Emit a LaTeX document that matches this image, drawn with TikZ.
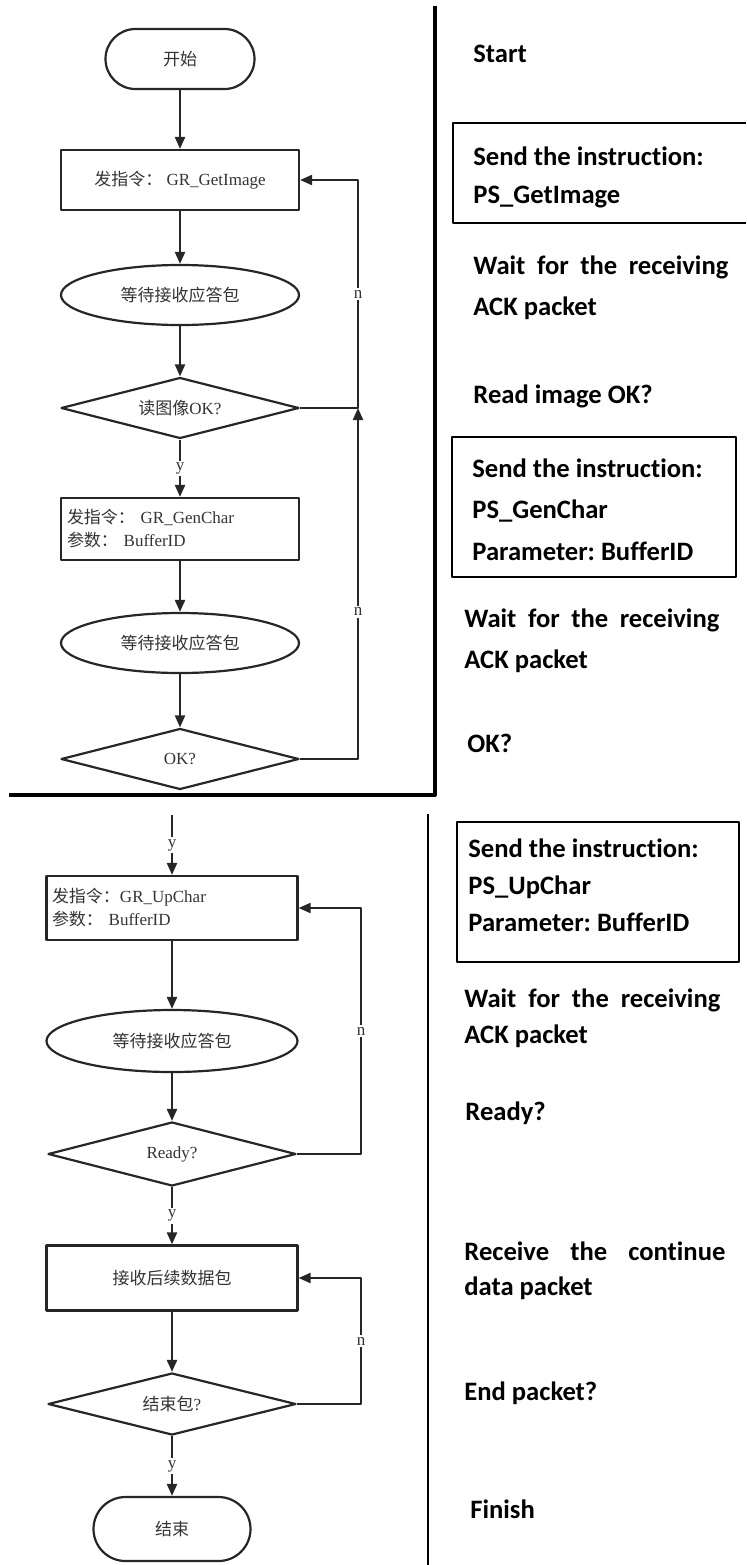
\documentclass[tikz,border=0pt]{standalone}
\usepackage{fontspec}
\setmainfont{Liberation Serif}
\newfontfamily\cjk{Noto Sans CJK SC}
\newfontfamily\engfont[Ligatures=NoCommon,RawFeature={-liga;-clig;-calt;-dlig}]{Carlito}
\usetikzlibrary{shapes.geometric,arrows.meta}
\frenchspacing
\begin{document}
\begin{tikzpicture}[x=0.5pt,y=-0.5pt,>={Triangle[length=6pt,width=5pt]},line join=round,
	every node/.style={text=black!80},
	proc/.style={draw=black!85,line width=1.1pt,rectangle,minimum width=119pt,minimum height=30pt,inner sep=2pt,font=\fontsize{8.5}{11.5}\selectfont},
	wait/.style={draw=black!85,line width=1.1pt,ellipse,minimum width=119pt,minimum height=30pt,inner sep=1pt,font=\fontsize{8.5}{11}\selectfont},
	test/.style={draw=black!85,line width=1.1pt,diamond,aspect=4,minimum width=119pt,minimum height=30.5pt,inner sep=1pt,font=\fontsize{8.5}{11}\selectfont},
	term/.style={draw=black!85,line width=1.1pt,rectangle,rounded corners=15pt,minimum width=74.5pt,minimum height=30pt,font=\fontsize{8.5}{11}\selectfont},
	flow/.style={draw=black!85,line width=1.1pt,->},
	lbl/.style={fill=white,inner sep=1pt,font=\fontsize{8.5}{10}\selectfont},
	rtxt/.style={anchor=base west,inner sep=0pt,text=black,font=\engfont\bfseries\fontsize{13.3}{16}\selectfont}]
	\useasboundingbox (0,0) rectangle (746,1565);
	\draw [line width=2pt] (435,6)--(435,795)--(9,795);
	\draw [line width=1pt] (428,814)--(428,1565);
	
	\node [term] (start) at (180,59) {\cjk 开始};
	\node [proc] (get) at (180,180) {{\cjk 发指令：} GR\_GetImage};
	\node [wait] (wait1) at (180,295) {\cjk 等待接收应答包};
	\node [test] (rdok) at (180,408) {{\cjk 读图像}OK?};
	\node [proc,minimum height=31pt,text width=113pt,align=left] (gen) at (180,529) {{\cjk 发指令：} GR\_GenChar\\{\cjk 参数：} BufferID};
	\node [wait] (wait2) at (180,643) {\cjk 等待接收应答包};
	\node [test] (ok) at (180,759) {OK?};
	\coordinate (j1) at (358,408);
	\draw [flow] (start)--(get);
	\draw [flow] (get)--(wait1);
	\draw [flow] (wait1)--(rdok);
	\draw [flow] (rdok)--node [lbl] {y} (gen);
	\draw [flow] (gen)--(wait2);
	\draw [flow] (wait2)--(ok);
	\draw [flow] (rdok.east)--(j1) |- node [lbl,pos=0.25] {n} (get.east);
	\draw [flow] (ok.east) -| node [lbl,pos=0.71] {n} (j1);
	
	\coordinate (topin) at (172,815);
	\node [proc,minimum width=125.5pt,minimum height=32pt,text width=120pt,align=left] (up) at (172,908) {{\cjk 发指令：}GR\_UpChar\\{\cjk 参数：} BufferID};
	\node [wait,minimum width=125.5pt,minimum height=31pt] (wait3) at (172,1041) {\cjk 等待接收应答包};
	\node [test,minimum width=124pt,minimum height=32pt] (ready) at (172,1154) {Ready?};
	\node [proc,minimum width=125.5pt,minimum height=32.5pt] (recv) at (172,1278) {\cjk 接收后续数据包};
	\node [test,minimum width=124pt,minimum height=31pt] (endp) at (172,1404) {{\cjk 结束包}?};
	\node [term,rounded corners=16pt,minimum width=78.5pt,minimum height=32pt] (finish) at (172,1529) {\cjk 结束};
	\draw [flow] (topin)--node [lbl] {y} (up);
	\draw [flow] (up)--(wait3);
	\draw [flow] (wait3)--(ready);
	\draw [flow] (ready)--node [lbl] {y} (recv);
	\draw [flow] (recv)--(endp);
	\draw [flow] (endp)--node [lbl] {y} (finish);
	\draw [flow] (ready.east)--++(64,0) |- node [lbl,pos=0.25] {n} (up.east);
	\draw [flow] (endp.east)--++(64,0) |- node [lbl,pos=0.25] {n} (recv.east);
	
	\draw [line width=0.8pt] (746,123)-|(453,223)--(746,223);
	\draw [line width=0.8pt] (452,437) rectangle (736,577);
	\draw [line width=0.8pt] (457,822) rectangle (739,962);
	\node [rtxt] (tStart) at (473,62) {Start};
	\node [rtxt] (tSendA) at (473,165) {Send the instruction:};
	\node [rtxt] (tGetImg) at (473,203) {PS\_GetImage};
	\node [rtxt] (tWaitA) at (473,274) {\makebox[127.5pt][s]{Wait for the receiving}};
	\node [rtxt] (tAckA) at (473,315) {ACK packet};
	\node [rtxt] (tRdOk) at (473,403) {Read image OK?};
	\node [rtxt] (tSendB) at (472,477) {Send the instruction:};
	\node [rtxt] (tGenChr) at (472,518) {PS\_GenChar};
	\node [rtxt] (tParB) at (472,560) {Parameter: BufferID};
	\node [rtxt] (tWaitB) at (464,627) {\makebox[127.5pt][s]{Wait for the receiving}};
	\node [rtxt] (tAckB) at (464,668) {ACK packet};
	\node [rtxt] (tOk) at (467,752) {OK?};
	\node [rtxt] (tSendC) at (468,857) {Send the instruction:};
	\node [rtxt] (tUpChr) at (468,894) {PS\_UpChar};
	\node [rtxt] (tParC) at (468,931) {Parameter: BufferID};
	\node [rtxt] (tWaitC) at (464,1007) {\makebox[128pt][s]{Wait for the receiving}};
	\node [rtxt] (tAckC) at (464,1043) {ACK packet};
	\node [rtxt] (tReady) at (465,1120) {Ready?};
	\node [rtxt] (tRecv) at (464,1260) {\makebox[130.5pt][s]{Receive the continue}};
	\node [rtxt] (tData) at (464,1295) {data packet};
	\node [rtxt] (tEndp) at (464,1400) {End packet?};
	\node [rtxt] (tFinish) at (470,1518) {Finish};
\end{tikzpicture}
\end{document}
